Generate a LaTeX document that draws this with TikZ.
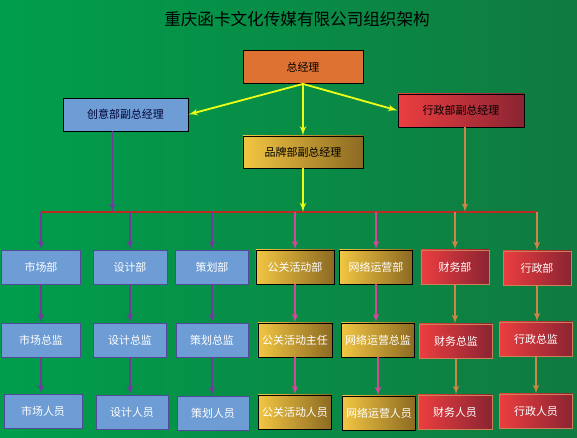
\documentclass[tikz,border=0pt]{standalone}
\usepackage{fontspec}
\setmainfont{Noto Sans CJK SC}
\usetikzlibrary{arrows,calc,positioning}

\definecolor{bgL}{RGB}{0,158,76}
\definecolor{bgR}{RGB}{16,122,64}
\definecolor{boxblue}{RGB}{110,156,212}
\definecolor{blueedge}{RGB}{84,72,156}
\definecolor{boxorange}{RGB}{222,114,50}
\definecolor{goldL}{RGB}{242,198,66}
\definecolor{goldR}{RGB}{140,106,34}
\definecolor{redL}{RGB}{236,62,64}
\definecolor{redR}{RGB}{138,36,50}
\definecolor{rededge}{RGB}{206,128,84}
\definecolor{lnyellow}{RGB}{236,255,20}
\definecolor{lnpurple}{RGB}{112,60,156}
\definecolor{lnpink}{RGB}{212,72,150}
\definecolor{lntan}{RGB}{204,134,70}
\definecolor{lnbar}{RGB}{188,42,34}

\begin{document}
\begin{tikzpicture}[
    x = 0.025cm,
    y = -0.025cm,
    font = \fontsize{7.8}{9}\selectfont
  ]

  \fill [left color=bgL, right color=bgR] (0,0) rectangle (577,438);

  \tikzstyle {box} = [draw, line width=0.6pt, inner sep=0, minimum height=0.85cm]
  \tikzstyle {bluebox} = [box, fill=boxblue, draw=blueedge, text=white]
  \tikzstyle {goldbox} = [box, left color=goldL, right color=goldR, draw=black, text=white]
  \tikzstyle {redbox} = [box, left color=redL, right color=redR, draw=rededge, text=white]
  \tikzstyle {ylink} = [draw=lnyellow, line width=1.3pt, -latex']
  \tikzstyle {plink} = [draw=lnpurple, line width=1.1pt, -latex']
  \tikzstyle {klink} = [draw=lnpink, line width=1.1pt, -latex']
  \tikzstyle {tlink} = [draw=lntan, line width=1.1pt, -latex']
  \tikzstyle {barline} = [draw=lnbar, line width=1.6pt]

  \node [font=\fontsize{11.8}{13}\selectfont] (title) at (297,19) {重庆函卡文化传媒有限公司组织架构};

  % managers
  \node [box, fill=boxorange, minimum width=3cm, minimum height=0.825cm] (zjl) at (303,67) {总经理};
  \node [box, fill=boxblue, text=black!80!blue, minimum width=3.125cm, minimum height=0.825cm] (cyfz) at (125.5,114.5) {创意部副总经理};
  \node [box, left color=redL, right color=redR, minimum width=3.15cm, minimum height=0.825cm] (xzfz) at (461,110.5) {行政部副总经理};
  \node [box, left color=goldL, right color=goldR, minimum width=3cm, minimum height=0.8cm] (ppfz) at (303,152) {品牌部副总经理};

  % departments
  \node [bluebox, minimum width=1.975cm] (sc) at (41,267) {市场部};
  \node [bluebox, minimum width=1.85cm] (sj) at (130,267) {设计部};
  \node [bluebox, minimum width=1.825cm] (ch) at (212,267) {策划部};
  \node [goldbox, minimum width=1.95cm] (gg) at (295,267) {公关活动部};
  \node [goldbox, minimum width=1.825cm] (wl) at (376,267) {网络运营部};
  \node [redbox, minimum width=1.7cm] (cw) at (455,267) {财务部};
  \node [redbox, minimum width=1.7cm] (xz) at (537,268) {行政部};

  % heads
  \node [bluebox, minimum width=1.975cm] (sczj) at (41,340) {市场总监};
  \node [bluebox, minimum width=1.825cm] (sjzj) at (130,340) {设计总监};
  \node [bluebox, minimum width=1.8cm] (chzj) at (212,340) {策划总监};
  \node [goldbox, minimum width=1.85cm] (ggzr) at (295,340) {公关活动主任};
  \node [goldbox, minimum width=1.825cm] (wlzj) at (378,340) {网络运营总监};
  \node [redbox, minimum width=1.825cm] (cwzj) at (456,341) {财务总监};
  \node [redbox, minimum width=1.825cm] (xzzj) at (536,339) {行政总监};

  % staff
  \node [bluebox, minimum width=1.95cm] (scry) at (43,411) {市场人员};
  \node [bluebox, minimum width=1.8cm] (sjry) at (132,412) {设计人员};
  \node [bluebox, minimum width=1.8cm] (chry) at (213,413) {策划人员};
  \node [goldbox, minimum width=1.825cm] (ggry) at (295,412) {公关活动人员};
  \node [goldbox, minimum width=1.825cm] (wlry) at (379,413) {网络运营人员};
  \node [redbox, minimum width=1.85cm] (cwry) at (455,412) {财务人员};
  \node [redbox, minimum width=1.825cm] (xzry) at (536,411) {行政人员};

  \coordinate (bar) at (0,212);
  \coordinate (cyout) at ($(cyfz.south)+(-13,0)$);
  \coordinate (xzout) at ($(xzfz.south)+(4,0)$);
  \draw [barline] (sc |- bar) -- (xz |- bar);

  \draw [ylink] (zjl.south) -- (cyfz.east);
  \draw [ylink] (zjl.south) -- (ppfz);
  \draw [ylink] (zjl.south) -- (xzfz.west);

  \draw [plink] (cyout) -- (cyout |- bar);
  \draw [ylink] (ppfz) -- (ppfz |- bar);
  \draw [tlink] (xzout) -- (xzout |- bar);

  \draw [plink] (sc |- bar) -- (sc);
  \draw [plink] (sj |- bar) -- (sj);
  \draw [plink] (ch |- bar) -- (ch);
  \draw [klink] (gg |- bar) -- (gg);
  \draw [klink] (wl |- bar) -- (wl);
  \draw [tlink] (cw |- bar) -- (cw);
  \draw [tlink] (xz |- bar) -- (xz);

  \draw [plink] (sc) -- (sc |- sczj.north);
  \draw [plink] (sj) -- (sj |- sjzj.north);
  \draw [plink] (ch) -- (ch |- chzj.north);
  \draw [klink] (gg) -- (gg |- ggzr.north);
  \draw [klink] (wl) -- (wl |- wlzj.north);
  \draw [tlink] (cw) -- (cw |- cwzj.north);
  \draw [tlink] (xz) -- (xz |- xzzj.north);

  \draw [plink] (sczj) -- (sczj |- scry.north);
  \draw [plink] (sjzj) -- (sjzj |- sjry.north);
  \draw [plink] (chzj) -- (chzj |- chry.north);
  \draw [klink] (ggzr) -- (ggzr |- ggry.north);
  \draw [klink] (wlzj) -- (wlzj |- wlry.north);
  \draw [tlink] (cwzj) -- (cwzj |- cwry.north);
  \draw [tlink] (xzzj) -- (xzzj |- xzry.north);
\end{tikzpicture}
\end{document}
